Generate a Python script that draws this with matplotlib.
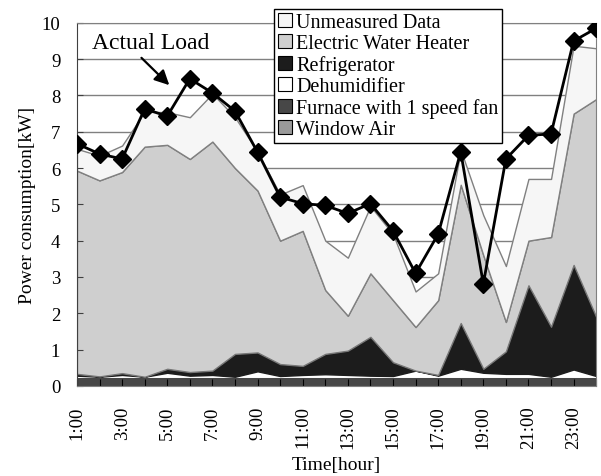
import numpy as np
import matplotlib.pyplot as plt

plt.rcParams['font.family'] = ['Liberation Serif', 'DejaVu Serif']

# hourly breakdown of household load, kW
hours = list(range(1, 25))
window_air = [0.0] * 24
furnace = [0.25, 0.25, 0.25, 0.25, 0.25, 0.25, 0.25, 0.25, 0.25, 0.25, 0.25, 0.25,
           0.25, 0.25, 0.25, 0.25, 0.25, 0.25, 0.25, 0.25, 0.25, 0.25, 0.25, 0.25]
dehumidifier = [0.03, 0.0, 0.05, 0.0, 0.11, 0.03, 0.05, 0.0, 0.15, 0.02, 0.05, 0.07,
                0.05, 0.03, 0.02, 0.17, 0.03, 0.22, 0.11, 0.08, 0.08, 0.0, 0.20, 0.02]
refrigerator = [0.05, 0.01, 0.05, 0.0, 0.11, 0.10, 0.12, 0.63, 0.52, 0.33, 0.25, 0.56,
                0.67, 1.07, 0.38, 0.0, 0.02, 1.26, 0.11, 0.62, 2.44, 1.38, 2.88, 1.63]
water_heater = [5.60, 5.40, 5.54, 6.34, 6.17, 5.87, 6.31, 5.12, 4.46, 3.40, 3.72, 1.76,
                0.96, 1.75, 1.71, 1.20, 2.06, 3.81, 3.13, 0.81, 1.23, 2.47, 4.17, 6.00]
unmeasured = [0.60, 0.68, 0.73, 0.96, 0.90, 1.15, 1.32, 1.40, 1.07, 1.27, 1.26, 1.36,
              1.60, 1.85, 1.82, 0.98, 0.74, 0.96, 1.10, 1.54, 1.70, 1.60, 1.87, 1.40]
actual_load = [6.67, 6.39, 6.25, 7.63, 7.43, 8.46, 8.07, 7.57, 6.44, 5.20, 5.02, 4.97,
               4.75, 5.02, 4.27, 3.10, 4.18, 6.45, 2.81, 6.25, 6.90, 6.94, 9.50, 9.85]

tick_labels = ['%d:00' % h if h % 2 == 1 else '' for h in hours]

names = ['Window Air', 'Furnace with 1 speed fan', 'Dehumidifier', 'Refrigerator',
         'Electric Water Heater', 'Unmeasured Data']
fills = ['#9a9a9a', '#474747', '#ffffff', '#1c1c1c', '#cfcfcf', '#f6f6f6']
edges = ['#9a9a9a', '#474747', '#ffffff', '#1c1c1c', '#777777', '#808080']

fig = plt.figure(figsize=(6.01, 4.77), dpi=100)
ax = fig.add_axes([0.128, 0.189, 0.864, 0.761])

# horizontal guides sit under the stacked areas, ticks stay on top
for y in range(1, 11):
    ax.axhline(y, color='#808080', lw=1, zorder=0.5)

polys = ax.stackplot(hours, window_air, furnace, dehumidifier, refrigerator,
                     water_heater, unmeasured, colors=fills, labels=names, zorder=1)
for p, ec in zip(polys, edges):
    p.set_edgecolor(ec)
    p.set_linewidth(1.0)

ax.plot(hours, actual_load, color='black', lw=2, marker='D', ms=9, zorder=4)

ax.set_xlim(1, 24)
ax.set_ylim(0, 10)
ax.set_yticks(range(0, 11))
ax.set_xticks(hours)
ax.set_xticklabels(tick_labels, rotation=90, fontsize=13.5)
ax.tick_params(axis='y', labelsize=13.5, direction='in', length=4, pad=12, color='#404040')
ax.tick_params(axis='x', direction='in', length=5, pad=14, color='black')
for s in ax.spines.values():
    s.set_color('#808080')
ax.spines['left'].set_color('#404040')

ax.set_xlabel('Time[hour]', fontsize=14, labelpad=6)
ax.set_ylabel('Power consumption[kW]', fontsize=14, labelpad=4)

ax.text(1.67, 9.45, 'Actual Load', fontsize=17, ha='left', va='center')
ax.annotate('', xy=(5.18, 8.23), xytext=(3.77, 9.09),
            arrowprops=dict(arrowstyle='-|>', lw=1.6, color='black', mutation_scale=22))

handles, labels = ax.get_legend_handles_labels()
leg = fig.legend(handles[::-1], labels[::-1], loc='upper left',
                 bbox_to_anchor=(0.456, 0.979), fontsize=14.5, frameon=True,
                 fancybox=False, edgecolor='black', framealpha=1,
                 handlelength=0.7, handleheight=0.7, handletextpad=0.2,
                 labelspacing=0.1, borderpad=0.2, borderaxespad=0)
leg.get_frame().set_linewidth(1)
for h in leg.legend_handles:
    h.set_edgecolor('black')
    h.set_linewidth(0.8)

fig.savefig('out.png', dpi=100)
